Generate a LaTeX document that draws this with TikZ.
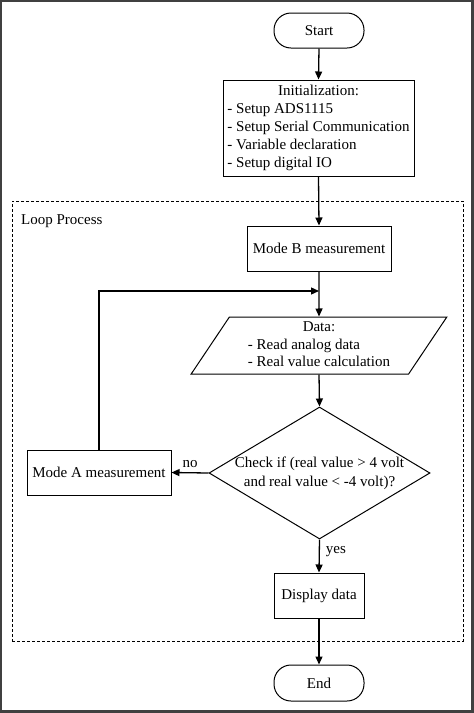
\documentclass[tikz,border=0pt]{standalone}
\usepackage{fontspec}
\setmainfont{Liberation Serif}
\usetikzlibrary{shapes.geometric,arrows.meta}
\begin{document}
\begin{tikzpicture}[x=1pt,y=-1pt,
  every node/.style={font=\fontsize{15}{18}\selectfont, inner sep=0pt},
  box/.style={draw, line width=1pt, rectangle, minimum width=#1, minimum height=45pt},
  term/.style={draw, line width=1pt, rectangle, rounded corners=17pt, minimum width=90pt, minimum height=#1},
  conn/.style={line width=1.3pt, -{Triangle[length=8pt,width=7pt]}},
  plain/.style={line width=1.3pt}
]
\useasboundingbox (0,0) rectangle (474,713);
\draw[line width=2.5pt, color={rgb,255:red,64;green,64;blue,64}] (1.2,1.2) rectangle (472.6,711.6);

\node[draw, dash pattern=on 3pt off 2pt, line width=0.9pt, minimum width=451pt, minimum height=440pt] (loop) at (237.5,421) {};
\node[anchor=west] (looplbl) at (21,221) {Loop Process};

\node[term=35pt] (start) at (319,30.5) {Start};
\node[draw, line width=1pt, minimum width=191pt, minimum height=96pt] (init) at (318.5,128)
  {\begin{tabular}{@{}l@{}}\multicolumn{1}{@{}c@{}}{Initialization:}\\- Setup ADS1115\\- Setup Serial Communication\\- Variable declaration\\- Setup digital IO\end{tabular}};
\node[box=144pt] (modeB) at (319,248.5) {Mode B measurement};
\coordinate (j) at (319,291);
\node[draw, line width=1pt, trapezium, trapezium left angle=60, trapezium right angle=120,
  trapezium stretches=true, minimum width=256pt, minimum height=57pt] (data) at (319,345.5)
  {\fontsize{15}{17.5}\selectfont\begin{tabular}{@{}l@{}}\multicolumn{1}{@{}c@{}}{Data:}\\- Read analog data\\- Real value calculation\end{tabular}};
\node[draw, line width=1pt, diamond, minimum width=221pt, minimum height=132pt,
  label={[align=center, font=\fontsize{15}{19}\selectfont]center:Check if (real value > 4 volt\\and real value < -4 volt)?}] (dia) at (319.5,473) {};
\node[box=144pt] (modeA) at (99,472.5) {Mode A measurement};
\node[box=90pt] (disp) at (319,595.5) {Display data};
\node[term=36pt] (end) at (319,683) {End};

\draw[conn] (start.south) -- (init.north);
\draw[conn] (init.south) -- (modeB.north);
\draw[conn] (modeB.south) -- (data.north);
\draw[conn] (modeA.north) |- (j);
\draw[conn] (data.south) -- (dia.north);
\draw[conn] (dia.west) -- node[above=4pt] (nolbl) {no} (modeA.east);
\draw[conn] (dia.south) -- node[right=6pt, pos=0.38] (yeslbl) {yes} (disp.north);
\draw[conn] (disp.south) -- (end.north);
\end{tikzpicture}
\end{document}
